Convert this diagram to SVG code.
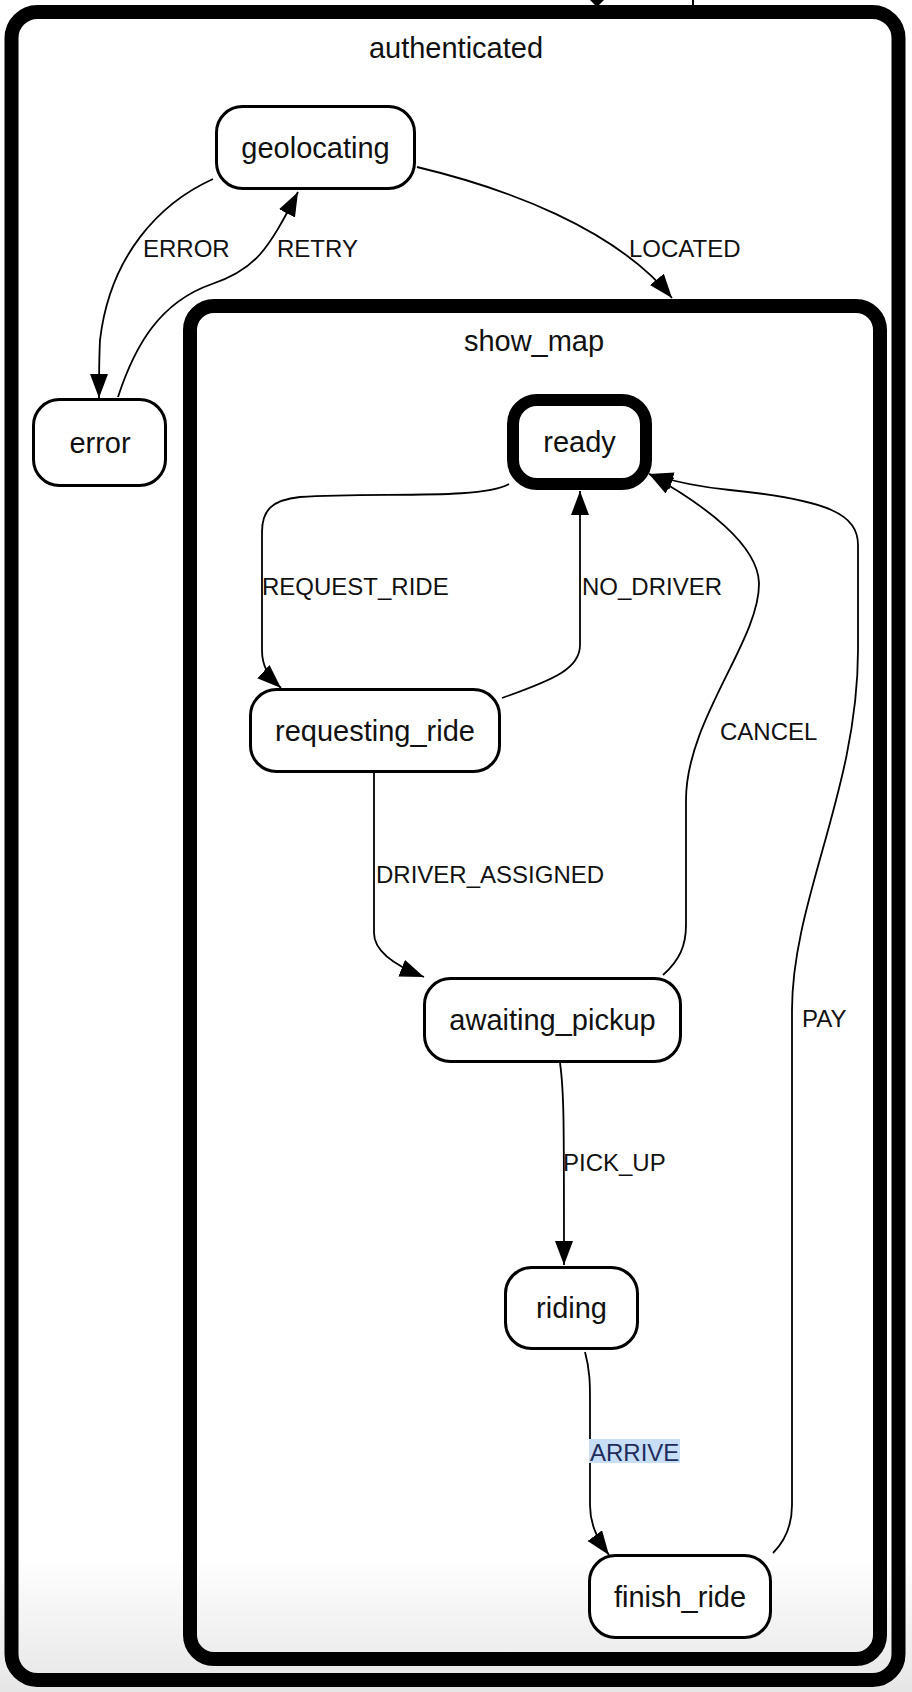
<svg xmlns="http://www.w3.org/2000/svg" width="912" height="1692" viewBox="0 0 912 1692">
<defs>
<linearGradient id="bg" x1="0" y1="0" x2="0" y2="1692" gradientUnits="userSpaceOnUse">
<stop offset="0" stop-color="#ffffff"/>
<stop offset="0.92" stop-color="#ffffff"/>
<stop offset="1" stop-color="#e6e6e6"/>
</linearGradient>
<marker id="arr" markerUnits="userSpaceOnUse" markerWidth="26" markerHeight="20" refX="24" refY="9" orient="auto">
<path d="M0,0 L24,9 L0,18 z" fill="#000"/>
</marker>
<style>
.node{fill:#fff;stroke:#000;stroke-width:3}
.ready{fill:#fff;stroke:#000;stroke-width:12}
.cont{fill:none;stroke:#000;stroke-width:14}
.nl{font-family:"Liberation Sans",Arial,sans-serif;font-size:29px;fill:#111;text-anchor:middle}
.el{font-family:"Liberation Sans",Arial,sans-serif;font-size:24px;fill:#111}
.edge{fill:none;stroke:#000;stroke-width:1.8;marker-end:url(#arr)}
</style>
</defs>
<rect x="0" y="0" width="912" height="1692" fill="url(#bg)"/>
<g id="top-fragments">
<polygon points="590,0 604,0 597,7" fill="#000"/>
<line x1="693" y1="0" x2="693" y2="7" stroke="#000" stroke-width="2"/>
</g>
<g id="authenticated">
<rect class="cont" x="11.5" y="12" width="887" height="1668" rx="26" stroke-width="13"/>
<text class="nl" x="456" y="58" font-size="28">authenticated</text>
</g>
<g id="show_map">
<rect class="cont" x="190" y="306" width="690" height="1353" rx="24"/>
<text class="nl" x="534" y="351">show_map</text>
</g>
<g id="connectors">
<path id="e-error" class="edge" d="M213,179 C160,203 110,255 100,340 C99,360 99,380 99,398"/>
<path id="e-retry" class="edge" d="M118,397 C135,345 160,302 212,284 C255,270 268,250 298,192"/>
<path id="e-located" class="edge" d="M417,167 C505,188 615,228 672,298"/>
<path id="e-request" class="edge" d="M509,484 C480,500 380,492 300,497 C272,500 262,510 262,532 L262,650 C262,666 268,676 281,688"/>
<path id="e-nodriver" class="edge" d="M502,698 C556,679 580,668 580,645 L580,491"/>
<path id="e-assigned" class="edge" d="M374,773 L374,933 C374,952 396,966 424,977"/>
<path id="e-cancel" class="edge" d="M663,975 C680,960 686,945 686,925 L686,800 C686,720 760,640 759,583 C758,545 705,505 649,474"/>
<path id="e-pay" class="edge" d="M773,1553 C786,1540 792,1525 792,1505 L792,1010 C792,900 858,790 858,650 L858,545 C858,515 830,500 730,490 C700,487 675,482 649,474"/>
<path id="e-pickup" class="edge" d="M560,1063 C564,1090 564,1120 564,1265"/>
<path id="e-arrive" class="edge" d="M585,1352 C590,1370 590,1385 590,1400 L590,1505 C590,1525 598,1540 609,1555"/>
</g>
<g id="labels">
<text class="el" x="143" y="257">ERROR</text>
<text class="el" x="277" y="257">RETRY</text>
<text class="el" x="629" y="257">LOCATED</text>
<text class="el" x="262" y="595">REQUEST_RIDE</text>
<text class="el" x="582" y="595">NO_DRIVER</text>
<text class="el" x="720" y="740">CANCEL</text>
<text class="el" x="376" y="883">DRIVER_ASSIGNED</text>
<text class="el" x="802" y="1027">PAY</text>
<text class="el" x="563" y="1171">PICK_UP</text>
<rect x="589" y="1439" width="91" height="24" fill="#c8ddf6"/>
<text class="el" x="590" y="1461" fill="#1f2d5c" style="fill:#1f2d5c">ARRIVE</text>
</g>
<g id="geolocating">
<rect class="node" x="216.5" y="106.5" width="198" height="82" rx="26"/>
<text class="nl" x="315.5" y="158">geolocating</text>
</g>
<g id="error">
<rect class="node" x="33.5" y="399.5" width="132" height="86" rx="26"/>
<text class="nl" x="100" y="453">error</text>
</g>
<g id="ready">
<rect class="ready" x="513" y="400" width="133" height="84" rx="24"/>
<text class="nl" x="579.5" y="452">ready</text>
</g>
<g id="requesting_ride">
<rect class="node" x="250.5" y="689.5" width="249" height="82" rx="26"/>
<text class="nl" x="375" y="741">requesting_ride</text>
</g>
<g id="awaiting_pickup">
<rect class="node" x="424.5" y="978.5" width="256" height="83" rx="26"/>
<text class="nl" x="552.5" y="1030">awaiting_pickup</text>
</g>
<g id="riding">
<rect class="node" x="505.5" y="1267.5" width="132" height="81" rx="26"/>
<text class="nl" x="571.5" y="1318">riding</text>
</g>
<g id="finish_ride">
<rect class="node" x="589.5" y="1555.5" width="181" height="82" rx="26"/>
<text class="nl" x="680" y="1607">finish_ride</text>
</g>
</svg>
